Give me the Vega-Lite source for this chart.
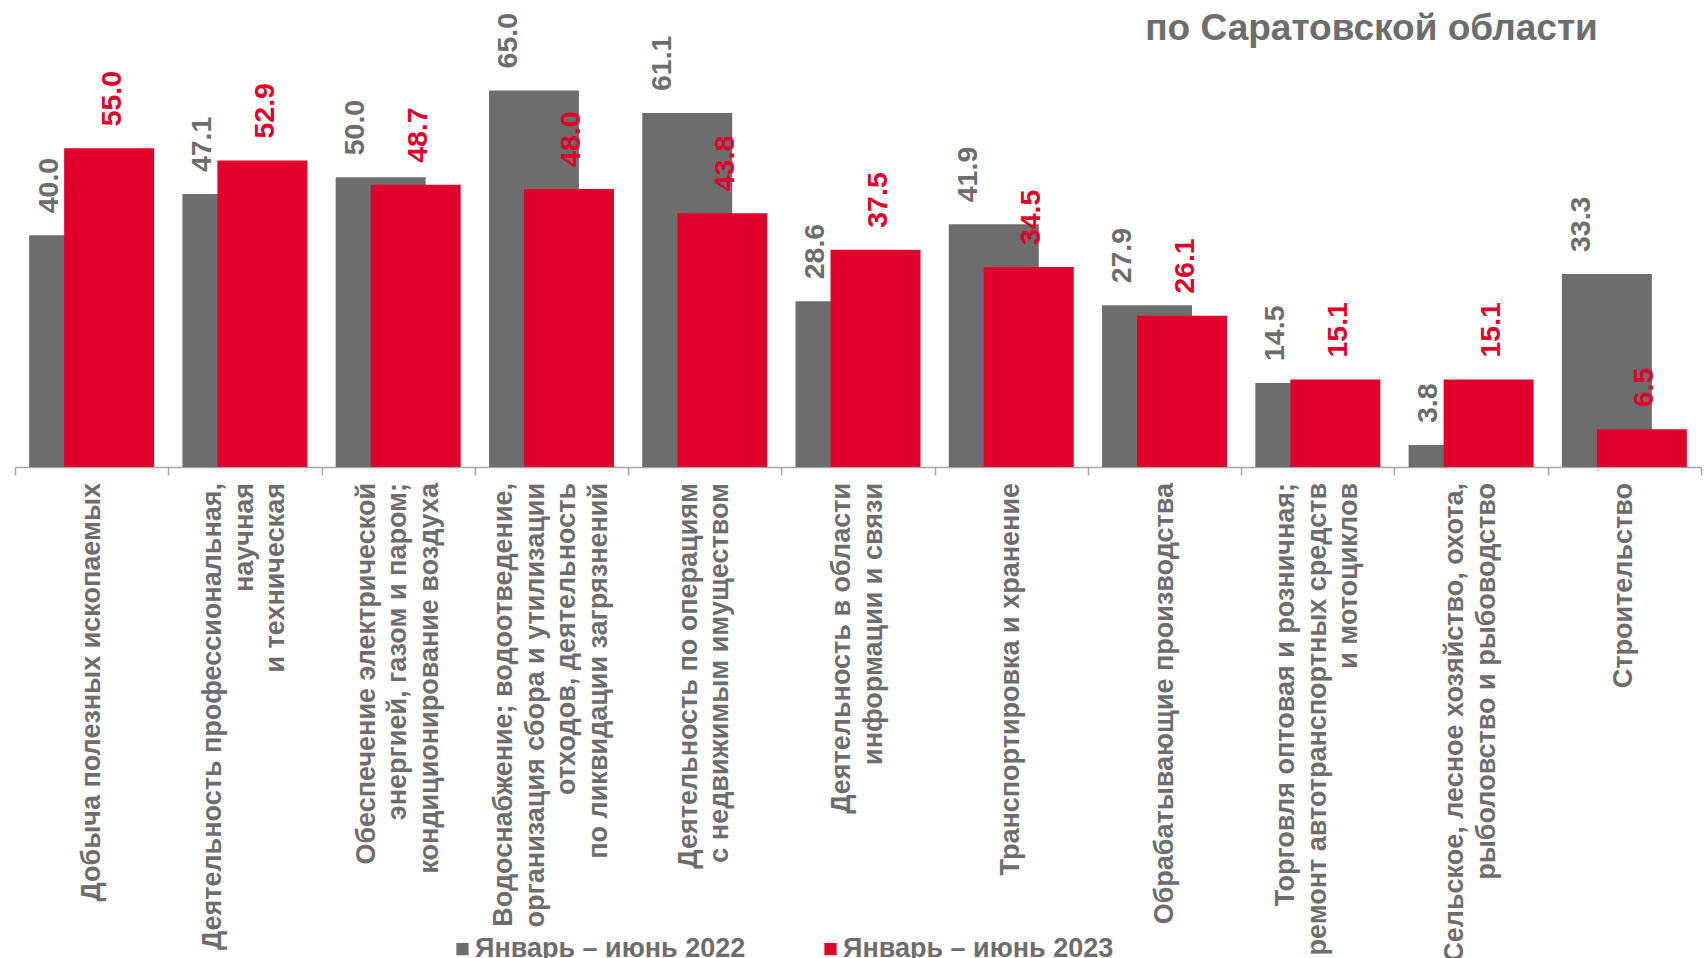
{
  "$schema": "https://vega.github.io/schema/vega-lite/v6.json",
  "autosize": {"type": "none"},
  "width": 1686,
  "height": 376.6,
  "padding": {"left": 15, "top": 90.4, "right": 5, "bottom": 491},
  "background": "white",
  "title": {
    "text": "по Саратовской области",
    "orient": "top",
    "anchor": "end",
    "dx": -104,
    "offset": 0,
    "dy": 64,
    "baseline": "alphabetic",
    "font": "Liberation Sans",
    "fontSize": 37,
    "fontWeight": "bold",
    "color": "#6d6d6d"
  },
  "config": {
    "view": {"stroke": null},
    "font": "Liberation Sans"
  },
  "data": {
    "values": [
      {"label": "Добыча полезных ископаемых", "series": "Январь – июнь  2022", "value": 40.0},
      {"label": "Добыча полезных ископаемых", "series": "Январь – июнь 2023", "value": 55.0},
      {"label": "Деятельность профессиональная,|научная|и техническая", "series": "Январь – июнь  2022", "value": 47.1},
      {"label": "Деятельность профессиональная,|научная|и техническая", "series": "Январь – июнь 2023", "value": 52.9},
      {"label": "Обеспечение электрической|энергией, газом и паром;|кондиционирование воздуха", "series": "Январь – июнь  2022", "value": 50.0},
      {"label": "Обеспечение электрической|энергией, газом и паром;|кондиционирование воздуха", "series": "Январь – июнь 2023", "value": 48.7},
      {"label": "Водоснабжение;  водоотведение,|организация сбора и утилизации|отходов, деятельность|по ликвидации загрязнений", "series": "Январь – июнь  2022", "value": 65.0},
      {"label": "Водоснабжение;  водоотведение,|организация сбора и утилизации|отходов, деятельность|по ликвидации загрязнений", "series": "Январь – июнь 2023", "value": 48.0},
      {"label": "Деятельность по операциям|с недвижимым имуществом", "series": "Январь – июнь  2022", "value": 61.1},
      {"label": "Деятельность по операциям|с недвижимым имуществом", "series": "Январь – июнь 2023", "value": 43.8},
      {"label": "Деятельность в области|информации и связи", "series": "Январь – июнь  2022", "value": 28.6},
      {"label": "Деятельность в области|информации и связи", "series": "Январь – июнь 2023", "value": 37.5},
      {"label": "Транспортировка и хранение", "series": "Январь – июнь  2022", "value": 41.9},
      {"label": "Транспортировка и хранение", "series": "Январь – июнь 2023", "value": 34.5},
      {"label": "Обрабатывающие производства", "series": "Январь – июнь  2022", "value": 27.9},
      {"label": "Обрабатывающие производства", "series": "Январь – июнь 2023", "value": 26.1},
      {"label": "Торговля оптовая и розничная;|ремонт автотранспортных средств|и мотоциклов", "series": "Январь – июнь  2022", "value": 14.5},
      {"label": "Торговля оптовая и розничная;|ремонт автотранспортных средств|и мотоциклов", "series": "Январь – июнь 2023", "value": 15.1},
      {"label": "Сельское, лесное хозяйство, охота,|рыболовство и  рыбоводство", "series": "Январь – июнь  2022", "value": 3.8},
      {"label": "Сельское, лесное хозяйство, охота,|рыболовство и  рыбоводство", "series": "Январь – июнь 2023", "value": 15.1},
      {"label": "Строительство", "series": "Январь – июнь  2022", "value": 33.3},
      {"label": "Строительство", "series": "Январь – июнь 2023", "value": 6.5}
    ]
  },
  "encoding": {
    "x": {
      "field": "label",
      "type": "nominal",
      "sort": null,
      "scale": {"paddingInner": 0, "paddingOuter": 0},
      "axis": {
        "title": null,
        "labels": false,
        "tickBand": "extent",
        "tickSize": 8,
        "tickColor": "#a6a6a6",
        "tickWidth": 1.5,
        "domainColor": "#a6a6a6",
        "domainWidth": 1.5
      }
    },
    "y": {
      "field": "value",
      "type": "quantitative",
      "scale": {"domain": [0, 65], "nice": false, "zero": true},
      "axis": null
    }
  },
  "layer": [
    {
      "transform": [{"filter": "datum.series === 'Январь – июнь  2022'"}],
      "mark": {"type": "bar", "width": {"band": 0.587}, "xOffset": -17.5},
      "encoding": {
        "color": {
          "field": "series",
          "type": "nominal",
          "scale": {"domain": ["Январь – июнь  2022", "Январь – июнь 2023"], "range": ["#6d6d6d", "#e1002b"]},
          "legend": {
            "title": null,
            "orient": "none",
            "direction": "horizontal",
            "legendX": 434,
            "legendY": 845,
            "padding": 0,
            "symbolType": "square",
            "symbolSize": 150,
            "symbolOpacity": 1,
            "labelFont": "Liberation Sans",
            "labelFontSize": 27,
            "labelFontWeight": "bold",
            "labelColor": "#6d6d6d",
            "labelOffset": -1,
            "columnPadding": 64,
            "labelLimit": 500
          }
        }
      }
    },
    {
      "transform": [{"filter": "datum.series === 'Январь – июнь 2023'"}],
      "mark": {"type": "bar", "width": {"band": 0.587}, "xOffset": 17.5},
      "encoding": {
        "color": {"field": "series", "type": "nominal"}
      }
    },
    {
      "transform": [{"filter": "datum.series === 'Январь – июнь  2022'"}],
      "mark": {"type": "text", "angle": 270, "align": "left", "baseline": "middle", "dx": 22, "xOffset": -43, "fontSize": 28.5, "fontWeight": "bold", "color": "#6d6d6d"},
      "encoding": {
        "text": {"field": "value", "type": "quantitative", "format": ".1f"}
      }
    },
    {
      "transform": [{"filter": "datum.series === 'Январь – июнь 2023'"}],
      "mark": {"type": "text", "angle": 270, "align": "left", "baseline": "middle", "dx": 22, "xOffset": 20, "fontSize": 28.5, "fontWeight": "bold", "color": "#e1002b"},
      "encoding": {
        "text": {"field": "value", "type": "quantitative", "format": ".1f"}
      }
    },
    {
      "transform": [
        {"filter": "datum.series === 'Январь – июнь  2022' && length(split(datum.label, '|')) === 1"},
        {"calculate": "split(datum.label, '|')", "as": "lines"}
      ],
      "mark": {"type": "text", "angle": 270, "align": "right", "baseline": "middle", "dx": -16, "dy": 0, "lineHeight": 31.5, "fontSize": 27, "fontWeight": "bold", "color": "#6d6d6d"},
      "encoding": {"y": {"datum": 0}, "text": {"field": "lines", "type": "nominal"}}
    },
    {
      "transform": [
        {"filter": "datum.series === 'Январь – июнь  2022' && length(split(datum.label, '|')) === 2"},
        {"calculate": "split(datum.label, '|')", "as": "lines"}
      ],
      "mark": {"type": "text", "angle": 270, "align": "right", "baseline": "middle", "dx": -16, "dy": -15.75, "lineHeight": 31.5, "fontSize": 27, "fontWeight": "bold", "color": "#6d6d6d"},
      "encoding": {"y": {"datum": 0}, "text": {"field": "lines", "type": "nominal"}}
    },
    {
      "transform": [
        {"filter": "datum.series === 'Январь – июнь  2022' && length(split(datum.label, '|')) === 3"},
        {"calculate": "split(datum.label, '|')", "as": "lines"}
      ],
      "mark": {"type": "text", "angle": 270, "align": "right", "baseline": "middle", "dx": -16, "dy": -31.5, "lineHeight": 31.5, "fontSize": 27, "fontWeight": "bold", "color": "#6d6d6d"},
      "encoding": {"y": {"datum": 0}, "text": {"field": "lines", "type": "nominal"}}
    },
    {
      "transform": [
        {"filter": "datum.series === 'Январь – июнь  2022' && length(split(datum.label, '|')) === 4"},
        {"calculate": "split(datum.label, '|')", "as": "lines"}
      ],
      "mark": {"type": "text", "angle": 270, "align": "right", "baseline": "middle", "dx": -16, "dy": -47.25, "lineHeight": 31.5, "fontSize": 27, "fontWeight": "bold", "color": "#6d6d6d"},
      "encoding": {"y": {"datum": 0}, "text": {"field": "lines", "type": "nominal"}}
    }
  ]
}
